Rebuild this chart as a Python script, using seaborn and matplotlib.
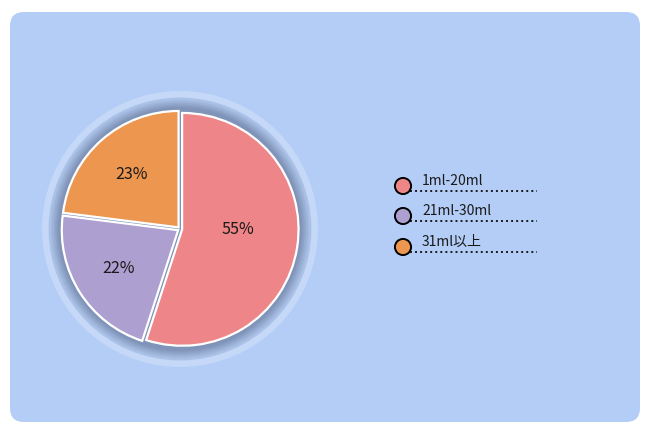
import matplotlib
matplotlib.use("Agg")
import numpy as np
import matplotlib.pyplot as plt
import seaborn as sns
from matplotlib.patches import FancyBboxPatch, Circle

sns.set_style("white")
plt.rcParams["font.family"] = ["Noto Sans CJK JP", "DejaVu Sans"]

# data
categories = ["1ml-20ml", "21ml-30ml", "31ml以上"]
shares = [55, 22, 23]
colors = ["#ee8588", "#ad9fd0", "#ec964f"]

fig = plt.figure(figsize=(6.5, 4.34), dpi=100)
fig.patch.set_facecolor("white")

# background panel in pixel coords
bg = fig.add_axes([0, 0, 1, 1])
bg.set_xlim(0, 650)
bg.set_ylim(434, 0)
bg.axis("off")
bg.add_patch(FancyBboxPatch((10, 12), 630, 410,
                            boxstyle="round,pad=0,rounding_size=14",
                            facecolor="#b3cdf6", edgecolor="none"))

# pie axes: center (180, 229) px, 1 unit = 120 px
ax = fig.add_axes([0, 25 / 434, 360 / 650, 360 / 434])
ax.set_aspect("equal")
ax.axis("off")

# halo rings around the pie
ax.add_patch(Circle((0, 0), 1.15, facecolor="#c5d8f7", edgecolor="none"))
ax.add_patch(Circle((0, 0), 1.095, facecolor="#aac1e7", edgecolor="none"))
halo = sns.blend_palette(["#a2b8dd", "#7f94b8"], 6)
for i, c in enumerate(halo):
    ax.add_patch(Circle((0, 0), 1.075 - i * 0.012, facecolor=c, edgecolor="none"))

wedges, texts, autotexts = ax.pie(
    shares, colors=colors, startangle=90, counterclock=False, radius=0.97,
    explode=[0.018] * 3, autopct="%d%%", pctdistance=0.61,
    wedgeprops=dict(edgecolor="white", linewidth=1.6),
    textprops=dict(fontsize=11.5, color="#1a1a1a"),
)
# the big slice's label sits a bit closer to the centre in the reference
autotexts[0].set_position((0.48, 0.0))
ax.set_xlim(-1.5, 1.5)
ax.set_ylim(-1.5, 1.5)

# legend drawn by hand
leg_y = [186, 216, 247]
bg.scatter([403] * 3, leg_y, s=135, c=colors, edgecolors="black", linewidths=1.4, zorder=3)
for y, lab in zip(leg_y, categories):
    bg.text(422, y - 5, lab, fontsize=10, color="#1a1a1a", va="center", ha="left")
    bg.plot([410, 537], [y + 5, y + 5], color="#1a1a1a", linestyle=(0, (1, 1.6)),
            linewidth=1.4, zorder=2)

fig.savefig("out.png", dpi=100)
